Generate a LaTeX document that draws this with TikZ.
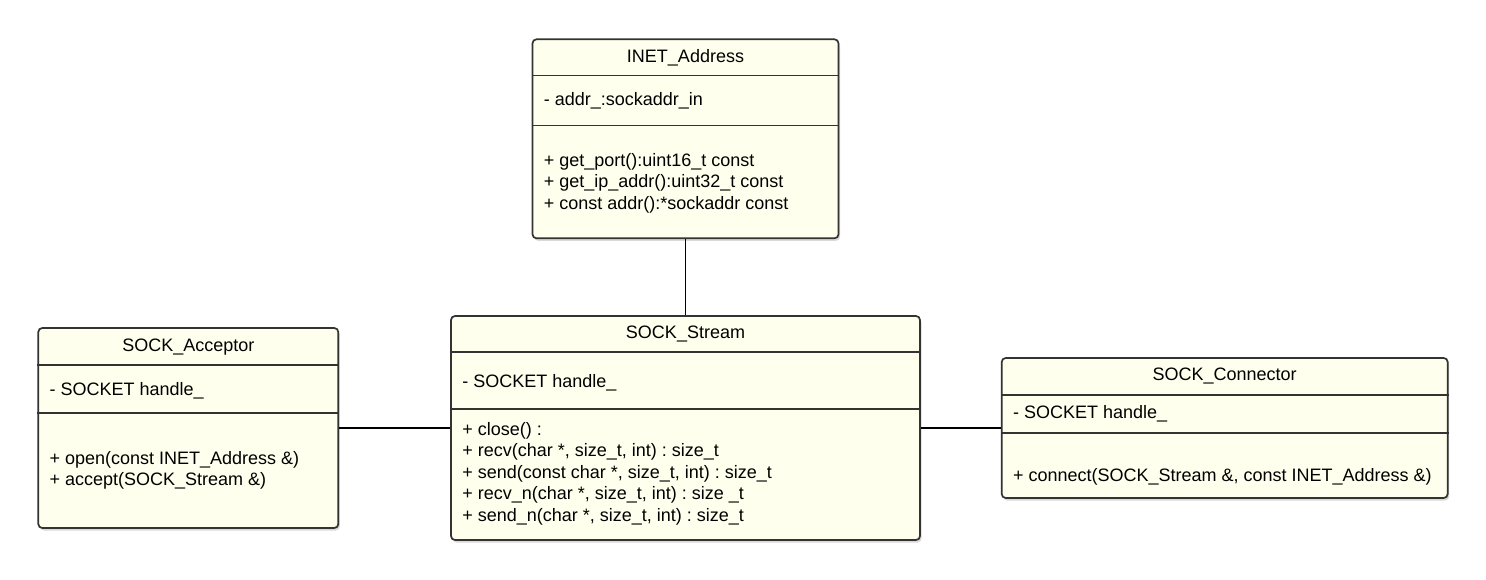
\documentclass[tikz,border=0pt]{standalone}
\usepackage{fontspec}
\setmainfont{Liberation Sans}
\frenchspacing
\usetikzlibrary{positioning,shadows}
\definecolor{classfill}{RGB}{255,255,238}
\definecolor{classline}{RGB}{51,51,51}
\tikzset{classbox/.style = {rectangle, rounded corners=4pt, draw=classline, line width=1.7pt, fill=classfill, drop shadow={shadow xshift=1.5pt, shadow yshift=-2.5pt, opacity=0.3}}}
\tikzset{divider/.style = {draw=classline, line width=1.7pt}}
\tikzset{classname/.style = {font=\fontsize{18}{21.4}\selectfont, inner sep=0pt, anchor=base}}
\tikzset{member/.style = {font=\fontsize{18}{21.5}\selectfont, inner sep=0pt, anchor=base west, align=left}}
\tikzset{link/.style = {draw=black, line width=1.6pt}}

\begin{document}
\begin{tikzpicture}[x=1pt,y=1pt]
\useasboundingbox (0,0) rectangle (1486,-580);
\node [classbox, minimum width=469pt, minimum height=224pt] (stream) at (685.5,-428) {};
\node [classbox, minimum width=306pt, minimum height=199pt, above=76pt of stream] (inet) {};
\node [classbox, minimum width=300pt, minimum height=200pt, left=111pt of stream] (acceptor) {};
\node [classbox, minimum width=446pt, minimum height=140pt, right=80pt of stream] (connector) {};

\draw [divider] ([yshift=-37pt]inet.north west) -- ([yshift=-37pt]inet.north east);
\draw [divider] ([yshift=-87pt]inet.north west) -- ([yshift=-87pt]inet.north east);
\draw [divider] ([yshift=-37pt]stream.north west) -- ([yshift=-37pt]stream.north east);
\draw [divider] ([yshift=-94pt]stream.north west) -- ([yshift=-94pt]stream.north east);
\draw [divider] ([yshift=-38pt]acceptor.north west) -- ([yshift=-38pt]acceptor.north east);
\draw [divider] ([yshift=-86pt]acceptor.north west) -- ([yshift=-86pt]acceptor.north east);
\draw [divider] ([yshift=-38pt]connector.north west) -- ([yshift=-38pt]connector.north east);
\draw [divider] ([yshift=-76pt]connector.north west) -- ([yshift=-76pt]connector.north east);

\node [classname] (inet-name) at ([yshift=-24pt]inet.north) {INET\_Address};
\node [member] (inet-attr) at ([xshift=12pt,yshift=-67pt]inet.north west) {- addr\_:sockaddr\_in};
\node [member] (inet-ops) at ([xshift=12pt,yshift=-171pt]inet.north west) {+ get\_port():uint16\_t const\\+ get\_ip\_addr():uint32\_t const\\+ const addr():*sockaddr const};

\node [classname] (stream-name) at ([yshift=-23pt]stream.north) {SOCK\_Stream};
\node [member] (stream-attr) at ([xshift=12pt,yshift=-72pt]stream.north west) {- SOCKET handle\_};
\node [member] (stream-ops) at ([xshift=12pt,yshift=-206pt]stream.north west) {+ close() :\\+ recv(char *, size\_t, int) : size\_t\\+ send(const char *, size\_t, int) : size\_t\\+ recv\_n(char *, size\_t, int) : size \_t\\+ send\_n(char *, size\_t, int) : size\_t};

\node [classname] (acceptor-name) at ([yshift=-24pt]acceptor.north) {SOCK\_Acceptor};
\node [member] (acceptor-attr) at ([xshift=12pt,yshift=-68pt]acceptor.north west) {- SOCKET handle\_};
\node [member] (acceptor-ops) at ([xshift=12pt,yshift=-158.5pt]acceptor.north west) {+ open(const INET\_Address \&)\\+ accept(SOCK\_Stream \&)};

\node [classname] (connector-name) at ([yshift=-23pt]connector.north) {SOCK\_Connector};
\node [member] (connector-attr) at ([xshift=12pt,yshift=-61pt]connector.north west) {- SOCKET handle\_};
\node [member] (connector-ops) at ([xshift=12pt,yshift=-124pt]connector.north west) {+ connect(SOCK\_Stream \&, const INET\_Address \&)};

\draw [link] (inet) -- (stream);
\draw [link] (acceptor) -- (stream);
\draw [link] (stream) -- (connector);
\end{tikzpicture}
\end{document}
